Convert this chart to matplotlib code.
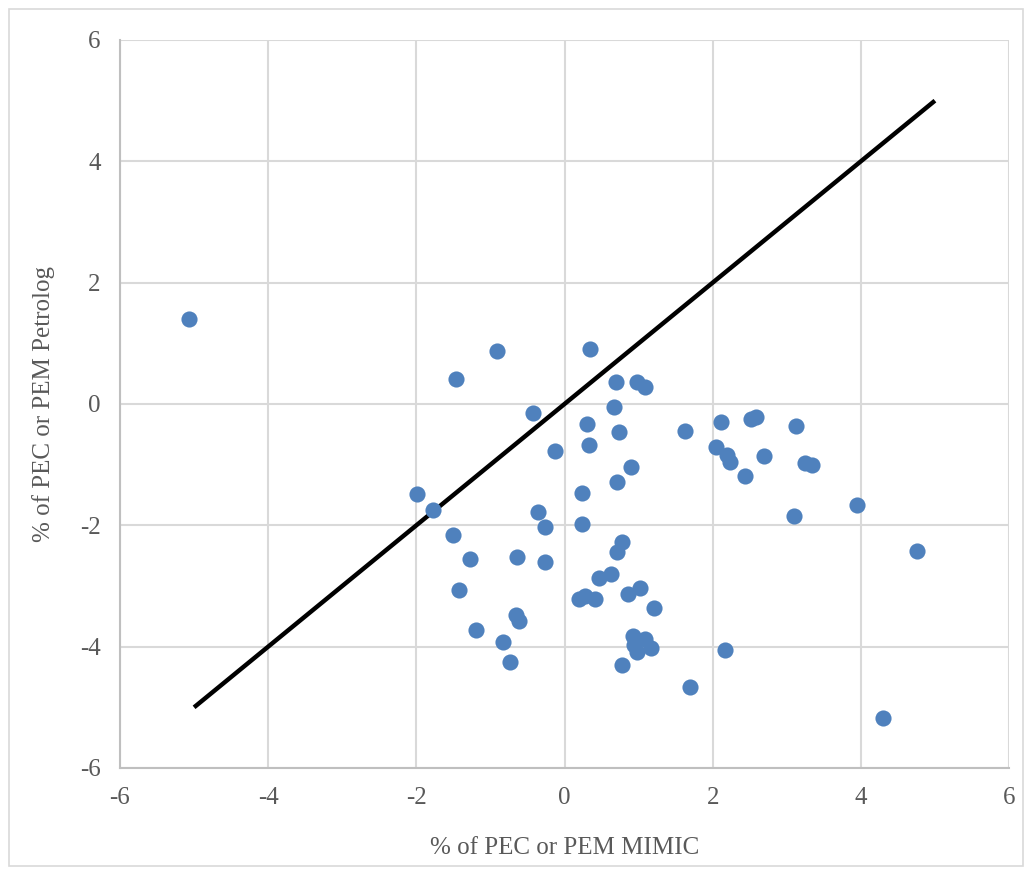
import matplotlib.pyplot as plt
from matplotlib.patches import Rectangle

plt.rcParams['font.family'] = ['Liberation Serif', 'DejaVu Serif']
plt.rcParams['axes.unicode_minus'] = False

# % of PEC or PEM, MIMIC (x) vs Petrolog (y)
mimic = [-5.07, -0.91, -1.46, 0.35, 0.70, 0.98, 1.09, 0.67, -0.42, 0.31,
         0.73, 1.63, 0.33, -0.13, 0.90, 0.71, 0.23, -1.99, -1.77, -0.36,
         -0.26, 0.24, -1.50, 0.78, 0.71, -1.28, -0.64, -0.26, 0.47, 0.63,
         -1.43, 0.19, 0.27, 0.41, 0.86, 1.02, 1.21, -0.65, -0.62, -1.20,
         -0.83, -0.74, 0.92, 1.09, 0.94, 1.17, 0.98, 0.78, 1.69, 2.16,
         2.11, 2.52, 2.58, 3.12, 2.05, 2.20, 2.24, 2.69, 2.44, 3.25,
         3.34, 3.10, 3.95, 4.76, 4.30]
petrolog = [1.40, 0.87, 0.42, 0.91, 0.36, 0.37, 0.28, -0.05, -0.15, -0.33,
            -0.46, -0.45, -0.68, -0.77, -1.04, -1.29, -1.47, -1.49, -1.75, -1.78,
            -2.03, -1.97, -2.16, -2.27, -2.44, -2.55, -2.53, -2.61, -2.87, -2.80,
            -3.07, -3.21, -3.16, -3.21, -3.13, -3.04, -3.37, -3.47, -3.58, -3.73,
            -3.93, -4.26, -3.82, -3.87, -3.97, -4.02, -4.09, -4.30, -4.66, -4.05,
            -0.29, -0.25, -0.21, -0.37, -0.71, -0.84, -0.95, -0.86, -1.18, -0.97,
            -1.01, -1.85, -1.66, -2.43, -5.18]

# 1:1 reference line
line_x = [-5, 5]
line_y = [-5, 5]

ticks = [-6, -4, -2, 0, 2, 4, 6]
grid_col = '#D9D9D9'
txt_col = '#595959'

fig = plt.figure(figsize=(10.32, 8.75), dpi=100)
ax = fig.add_axes([120/1032, 1 - 768/875, (1009 - 120)/1032, (768 - 40)/875])

ax.plot(line_x, line_y, color='black', linewidth=3.2, solid_capstyle='butt', zorder=3)
ax.scatter(mimic, petrolog, s=135, color='#4F81BD', linewidths=0, zorder=4)

ax.set_xlim(-6, 6)
ax.set_ylim(-6, 6)
ax.set_xticks(ticks)
ax.set_yticks(ticks)
ax.grid(True, color=grid_col, linewidth=1.5, zorder=0)
ax.set_axisbelow(True)
for s in ['top', 'right']:
    ax.spines[s].set_visible(False)
for s in ['left', 'bottom']:
    ax.spines[s].set_color('#BFBFBF')
    ax.spines[s].set_linewidth(1.5)
ax.tick_params(length=0, labelsize=18, colors=txt_col, pad=14)
ax.set_xlabel('% of PEC or PEM MIMIC', fontsize=18, color=txt_col, labelpad=20)
ax.set_ylabel('% of PEC or PEM Petrolog', fontsize=18, color=txt_col, labelpad=18)

# chart frame
fig.patches.append(Rectangle((9/1032, 1 - 866/875), 1014/1032, 857/875,
                             transform=fig.transFigure, fill=False,
                             edgecolor='#D9D9D9', linewidth=1.2))

fig.savefig('out.png', dpi=100)
